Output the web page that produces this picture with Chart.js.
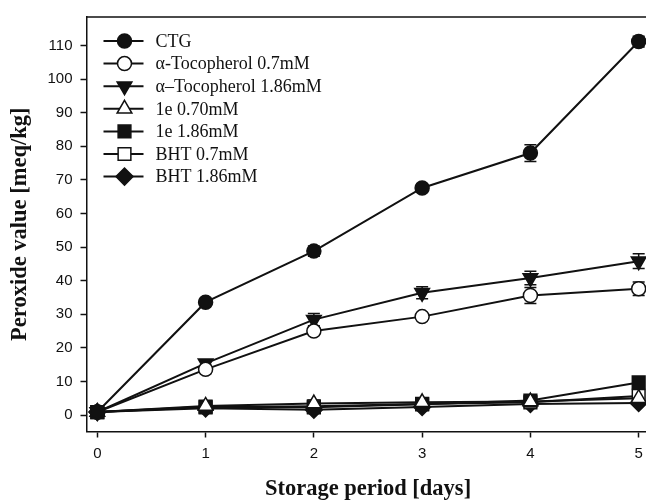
<!DOCTYPE html>
<html>
<head>
<meta charset="utf-8">
<script src="https://cdn.jsdelivr.net/npm/chart.js@4"></script>
<style>
html,body{margin:0;padding:0;overflow:hidden;background:#fff;width:646px;height:503px;}
#wrap{width:660px;height:503px;}
</style>
</head>
<body>
<div id="wrap"><canvas id="c" width="660" height="503"></canvas></div>
<script>
const days = [0, 1, 2, 3, 4, 5];
const yTicks = [0, 10, 20, 30, 40, 50, 60, 70, 80, 90, 100, 110];
const seriesNames = ['CTG', 'α-Tocopherol 0.7mM', 'α–Tocopherol 1.86mM', '1e 0.70mM', '1e 1.86mM', 'BHT 0.7mM', 'BHT 1.86mM'];
const ctg      = [0.9, 33.6, 48.8, 67.6, 78.0, 111.2];
const ctgErr   = [0.6, 1.0, 1.5, 1.2, 2.5, 1.6];
const toc07    = [0.9, 13.6, 25.0, 29.3, 35.6, 37.6];
const toc07Err = [0.5, 1.2, 1.2, 1.0, 2.4, 2.0];
const toc186   = [0.9, 15.4, 28.4, 36.4, 40.8, 45.8];
const toc186Err= [0.5, 1.0, 1.8, 1.8, 2.0, 2.2];
const e070     = [0.9, 2.7, 3.4, 3.8, 4.0, 5.0];
const e070Err  = [0.4, 0.8, 1.0, 1.0, 0.8, 0.8];
const e186     = [0.9, 2.5, 2.3, 3.2, 4.3, 9.7];
const e186Err  = [0.4, 0.8, 0.6, 0.6, 0.8, 0.8];
const bht07    = [0.9, 2.3, 2.6, 3.3, 3.8, 5.7];
const bht07Err = [0.4, 0.6, 0.6, 0.6, 0.6, 0.8];
const bht186   = [0.9, 2.0, 1.6, 2.4, 3.3, 3.6];
const bht186Err= [0.4, 0.6, 0.6, 0.6, 0.6, 0.6];

const seriesValues = [ctg, toc07, toc186, e070, e186, bht07, bht186];
const seriesErrs = [ctgErr, toc07Err, toc186Err, e070Err, e186Err, bht07Err, bht186Err];
const markers = [
  {pointStyle:'circle', radius:7, rotation:0, fill:'#111'},
  {pointStyle:'circle', radius:7, rotation:0, fill:'#fff'},
  {pointStyle:'triangle', radius:8.5, rotation:180, fill:'#111'},
  {pointStyle:'triangle', radius:8.5, rotation:0, fill:'#fff'},
  {pointStyle:'rect', radius:9, rotation:0, fill:'#111'},
  {pointStyle:'rect', radius:9, rotation:0, fill:'#fff'},
  {pointStyle:'rectRot', radius:8.5, rotation:0, fill:'#111'}
];

const datasets = seriesNames.map((name, i) => ({
  label: name,
  data: days.map((d, j) => ({x: d, y: seriesValues[i][j]})),
  err: seriesErrs[i],
  borderColor: '#111',
  borderWidth: 2,
  backgroundColor: markers[i].fill,
  pointStyle: markers[i].pointStyle,
  pointRadius: markers[i].radius,
  pointRotation: markers[i].rotation,
  pointBackgroundColor: markers[i].fill,
  pointBorderColor: '#111',
  pointBorderWidth: 1.5,
  tension: 0,
  fill: false
}));

const errorBars = {
  id: 'errorBars',
  beforeDatasetsDraw(chart) {
    const ctx = chart.ctx, xs = chart.scales.x, ys = chart.scales.y;
    ctx.save();
    ctx.strokeStyle = '#111';
    ctx.lineWidth = 1.5;
    chart.data.datasets.forEach(ds => {
      ds.data.forEach((p, j) => {
        const e = ds.err[j];
        const px = xs.getPixelForValue(p.x);
        const t = ys.getPixelForValue(p.y + e), b = ys.getPixelForValue(p.y - e);
        ctx.beginPath();
        ctx.moveTo(px, t); ctx.lineTo(px, b);
        ctx.moveTo(px - 6, t); ctx.lineTo(px + 6, t);
        ctx.moveTo(px - 6, b); ctx.lineTo(px + 6, b);
        ctx.stroke();
      });
    });
    ctx.restore();
  }
};

const frameAndLegend = {
  id: 'frameAndLegend',
  afterDraw(chart) {
    const ctx = chart.ctx, a = chart.chartArea;
    ctx.save();
    ctx.strokeStyle = '#111';
    ctx.lineWidth = 1.5;
    ctx.beginPath();
    ctx.moveTo(a.left, a.top); ctx.lineTo(a.right, a.top); ctx.lineTo(a.right, a.bottom);
    ctx.stroke();
    // legend
    const x0 = a.left + 17, x1 = a.left + 57, mx = a.left + 38, tx = a.left + 69;
    ctx.font = '18px "Liberation Serif", "Times New Roman", serif';
    ctx.textBaseline = 'middle';
    ctx.textAlign = 'left';
    seriesNames.forEach((name, i) => {
      const y = 41 + i * 22.6;
      ctx.strokeStyle = '#111';
      ctx.lineWidth = 2;
      ctx.beginPath(); ctx.moveTo(x0, y); ctx.lineTo(x1, y); ctx.stroke();
      ctx.fillStyle = markers[i].fill;
      ctx.strokeStyle = '#111';
      ctx.lineWidth = 1.5;
      Chart.helpers.drawPoint(ctx, {pointStyle: markers[i].pointStyle, radius: markers[i].radius, rotation: markers[i].rotation, borderWidth: 1.5}, mx, y);
      ctx.fillStyle = '#111';
      ctx.fillText(name, tx, y + 1);
    });
    ctx.restore();
  }
};

new Chart(document.getElementById('c'), {
  type: 'line',
  data: { datasets },
  plugins: [errorBars, frameAndLegend],
  options: {
    responsive: false,
    animation: false,
    layout: { padding: { top: 12.5, right: 8, left: 0, bottom: 0 } },
    plugins: { legend: { display: false }, tooltip: { enabled: false } },
    scales: {
      x: {
        type: 'linear',
        min: -0.1, max: 5.1,
        afterFit(s) { s.height = 71.5; },
        afterBuildTicks(s) { s.ticks = days.map(v => ({value: v})); },
        ticks: { color: '#111', padding: 7, font: { family: '"Liberation Sans", Arial, sans-serif', size: 15 } },
        grid: { drawOnChartArea: false, drawTicks: true, tickLength: 6, color: '#111', tickWidth: 1.5 },
        border: { display: true, color: '#111', width: 1.5 },
        title: { display: true, text: 'Storage period [days]', color: '#111', padding: { top: 0, bottom: 0 },
                 font: { family: '"Liberation Serif", "Times New Roman", serif', size: 22.5, weight: 'bold' } }
      },
      y: {
        type: 'linear',
        min: -4.9, max: 118.5,
        afterFit(s) { s.width = 86.5; },
        afterBuildTicks(s) { s.ticks = yTicks.map(v => ({value: v})); },
        ticks: { color: '#111', padding: 8, font: { family: '"Liberation Sans", Arial, sans-serif', size: 15 } },
        grid: { drawOnChartArea: false, drawTicks: true, tickLength: 6, color: '#111', tickWidth: 1.5 },
        border: { display: true, color: '#111', width: 1.5 },
        title: { display: true, text: 'Peroxide value [meq/kg]', color: '#111', padding: { top: 6.5, bottom: 0 },
                 font: { family: '"Liberation Serif", "Times New Roman", serif', size: 22.5, weight: 'bold' } }
      }
    }
  }
});
</script>
</body>
</html>
